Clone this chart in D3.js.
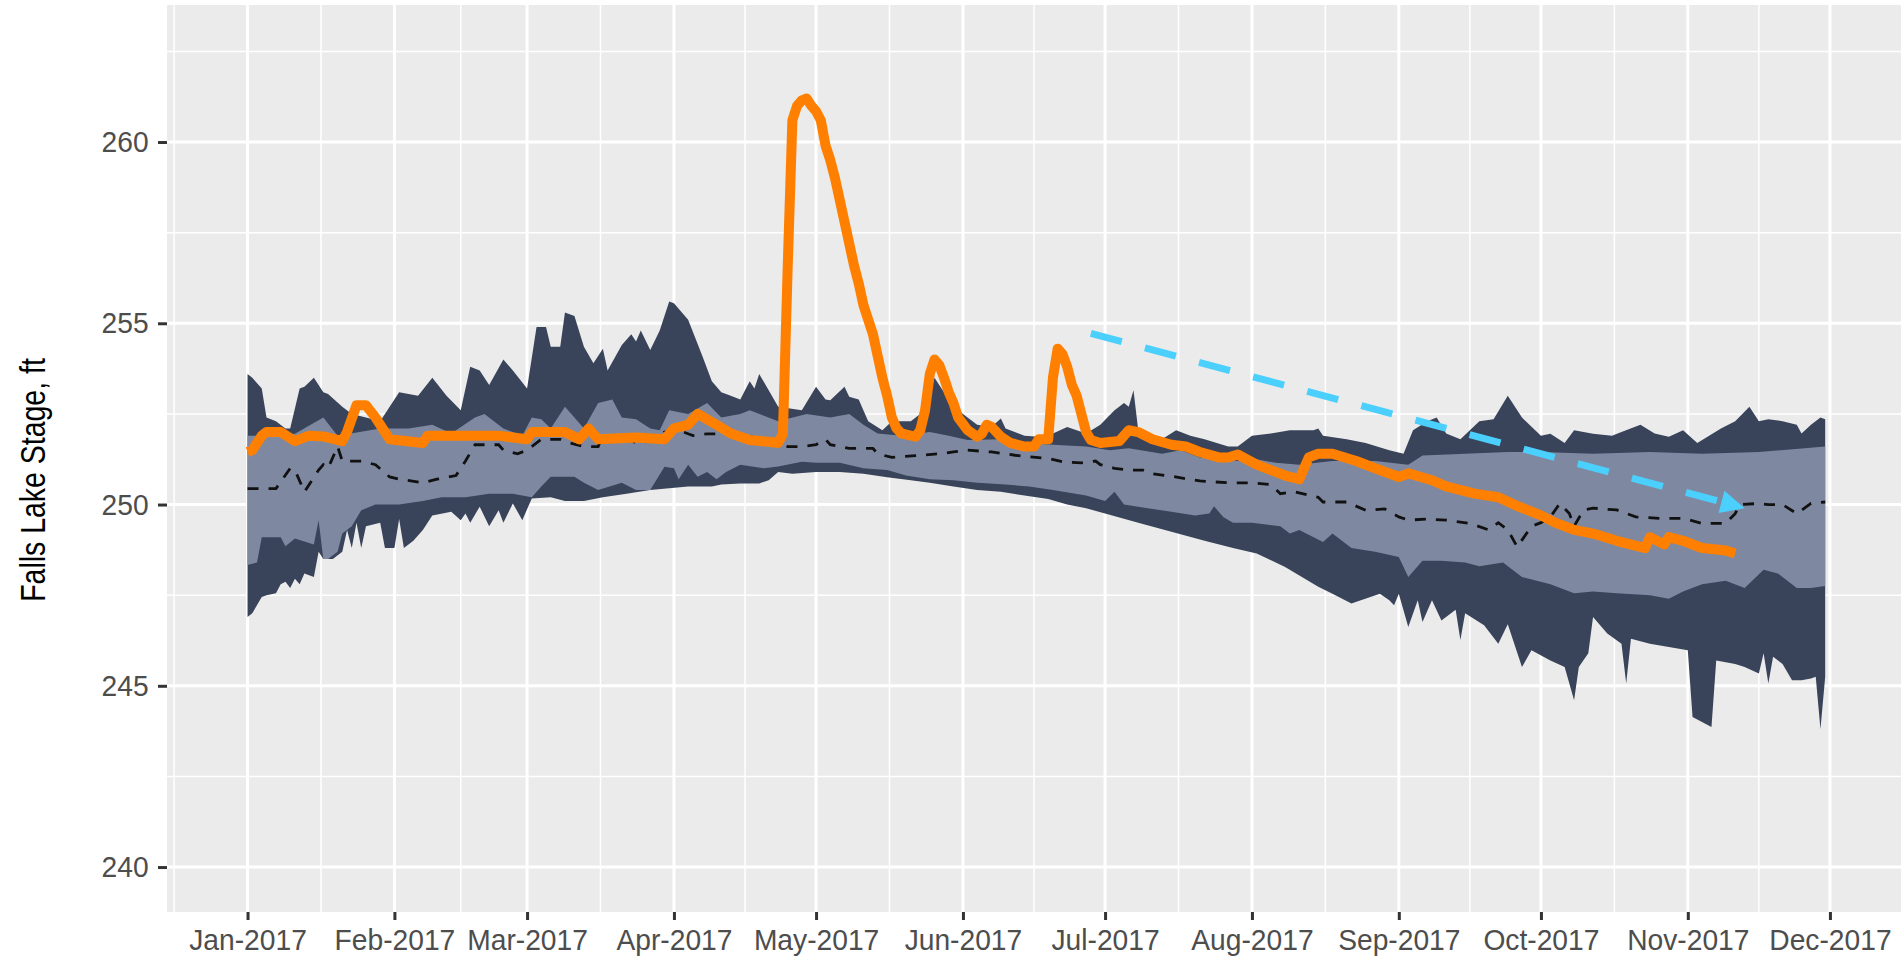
<!DOCTYPE html>
<html>
<head>
<meta charset="utf-8">
<script src="https://cdn.jsdelivr.net/npm/d3@7"></script>
<style>
  body { margin: 0; background: #ffffff; }
  text { font-family: "Liberation Sans", Arial, sans-serif; }
</style>
</head>
<body>
<div></div>
<script>
// ---- data: [day offset from 1 Jan 2017, stage in ft] ----
var outerHigh = [[0,253.6],[1,253.5],[3,253.2],[4,252.4],[6,252.3],[8,252.1],[9,252.1],[11,253.2],[12,253.25],[14,253.5],[16,253.1],[17,253.05],[20,252.7],[22,252.5],[25,252.4],[28,252.3],[31,252.9],[32,253.1],[36,253.0],[39,253.5],[42,253.0],[45,252.6],[47,253.8],[49,253.7],[51,253.3],[54,254.0],[56,253.7],[59,253.2],[61,254.9],[63,254.9],[64,254.35],[66,254.35],[67,255.3],[69,255.2],[71,254.35],[73,253.9],[75,254.3],[76,253.7],[79,254.4],[81,254.7],[82,254.5],[83,254.8],[85,254.26],[87,254.8],[89,255.6],[90,255.55],[93,255.1],[96,254.1],[98,253.4],[100,253.1],[102,253.0],[104,252.9],[106,253.4],[107,253.2],[108,253.6],[110,253.15],[112,252.7],[117,252.6],[120,253.25],[122,252.9],[123,252.88],[126,253.25],[127,252.97],[129,252.9],[131,252.3],[134,252.05],[136,252.3],[140,252.3],[143,252.6],[145,253.5],[148,252.9],[151,252.5],[154,252.2],[157,252.14],[159,252.37],[160,252.1],[164,251.9],[167,251.87],[170,251.96],[173,252.14],[177,251.96],[180,252.2],[183,252.6],[185,252.8],[186,252.7],[187,253.15],[188,252.05],[191,251.87],[193,251.8],[196,252.05],[199,251.9],[202,251.8],[207,251.6],[209,251.6],[212,251.9],[216,251.96],[220,252.05],[225,252.05],[226,252.1],[227,251.9],[232,251.8],[236,251.7],[241,251.5],[244,251.4],[246,252.05],[249,252.3],[251,252.4],[253,251.96],[256,251.8],[260,252.3],[263,252.35],[266,253.0],[269,252.4],[273,251.9],[275,251.95],[278,251.7],[280,252.05],[284,251.95],[288,251.9],[290,252.0],[294,252.2],[297,251.96],[300,251.87],[303,252.05],[306,251.7],[311,252.1],[314,252.3],[317,252.7],[319,252.3],[321,252.35],[324,252.3],[327,252.2],[328,251.96],[330,252.2],[332,252.4],[333,252.35]];

var innerHigh = [[0,251.9],[4,251.9],[10,251.95],[16,252.4],[19,251.9],[28,252.1],[34,252.1],[39,252.2],[43,251.96],[48,252.4],[50,252.5],[54,252.1],[58,251.9],[60,252.4],[62,252.35],[64,252.1],[67,252.7],[69,252.4],[71,252.1],[74,252.8],[77,252.9],[79,252.4],[82,252.35],[85,252.1],[87,252.05],[89,252.6],[93,252.5],[97,252.8],[100,252.4],[104,252.5],[106,252.6],[112,252.3],[118,252.5],[123,252.4],[127,252.5],[130,252.2],[133,251.96],[138,251.9],[144,252.0],[148,251.9],[152,251.78],[159,251.8],[164,251.7],[170,251.65],[177,251.6],[182,251.5],[186,251.55],[193,251.4],[197,251.5],[201,251.3],[209,251.2],[211,251.3],[217,251.15],[222,251.1],[229,251.2],[238,251.2],[245,251.1],[248,251.35],[257,251.4],[266,251.45],[273,251.45],[284,251.4],[296,251.45],[307,251.4],[319,251.45],[333,251.6]];

var innerLow = [[0,248.33],[2,248.4],[3,249.1],[7,249.1],[8,248.85],[10,249.06],[14,248.9],[15,249.57],[16,248.5],[17,248.5],[19,248.7],[20,249.2],[22,249.4],[24,249.84],[27,250.0],[32,250.0],[37,250.1],[41,250.2],[46,250.2],[51,250.3],[56,250.3],[60,250.2],[62,250.5],[64,250.77],[69,250.77],[71,250.6],[74,250.4],[79,250.6],[82,250.4],[85,250.4],[88,251.04],[90,251.0],[91,250.7],[93,251.1],[95,250.77],[97,250.9],[99,250.7],[101,250.9],[104,251.1],[109,251.0],[112,251.05],[117,251.18],[120,251.15],[125,251.15],[130,251.0],[135,250.95],[139,250.8],[144,250.7],[149,250.67],[154,250.6],[160,250.55],[165,250.5],[170,250.4],[177,250.25],[181,250.1],[183,250.35],[185,250.0],[190,249.9],[195,249.8],[200,249.7],[203,249.75],[204,249.95],[206,249.65],[208,249.5],[212,249.5],[218,249.4],[220,249.2],[222,249.3],[227,248.97],[229,249.2],[233,248.8],[238,248.7],[243,248.55],[245,248.0],[248,248.45],[252,248.45],[257,248.4],[260,248.3],[265,248.4],[269,248.0],[275,247.8],[280,247.55],[284,247.6],[289,247.55],[296,247.5],[300,247.4],[303,247.6],[307,247.8],[312,247.9],[316,247.7],[320,248.2],[323,248.1],[327,247.7],[330,247.7],[333,247.75]];

var outerLow = [[0,246.9],[1,247.0],[3,247.45],[4,247.5],[6,247.55],[7,247.8],[8,247.87],[9,247.7],[10,247.95],[11,247.8],[12,248.1],[14,248.0],[15,248.7],[16,248.5],[18,248.5],[20,248.7],[21,249.3],[22,248.8],[23,249.5],[24,248.8],[25,249.4],[28,249.5],[29,248.8],[31,248.8],[32,249.6],[33,248.8],[35,249.0],[37,249.3],[39,249.7],[43,249.8],[45,249.57],[46,249.75],[47,249.5],[49,249.94],[51,249.4],[53,249.84],[54,249.5],[56,250.03],[58,249.57],[60,250.17],[64,250.2],[67,250.1],[71,250.1],[75,250.2],[80,250.3],[85,250.4],[93,250.5],[98,250.5],[100,250.55],[104,250.58],[108,250.58],[110,250.67],[112,250.9],[115,250.85],[120,250.9],[125,250.9],[130,250.85],[135,250.75],[140,250.67],[144,250.6],[149,250.5],[154,250.4],[159,250.35],[164,250.25],[169,250.15],[173,250.0],[177,249.9],[181,249.75],[188,249.5],[195,249.25],[202,249.0],[208,248.8],[213,248.65],[219,248.28],[226,247.73],[229,247.54],[233,247.27],[235,247.36],[239,247.54],[241,247.36],[242,247.22],[243,247.54],[245,246.62],[247,247.36],[248,246.76],[250,247.36],[252,246.8],[255,247.1],[256,246.26],[257,247.0],[261,246.67],[264,246.16],[266,246.7],[269,245.52],[271,245.98],[275,245.7],[278,245.52],[280,244.6],[281,245.52],[283,245.9],[284,246.9],[287,246.44],[290,246.16],[291,245.06],[292,246.3],[296,246.16],[300,246.07],[304,245.98],[305,244.14],[309,243.86],[310,245.7],[314,245.6],[316,245.52],[319,245.34],[320,245.9],[321,245.06],[322,245.8],[324,245.6],[326,245.15],[328,245.15],[330,245.2],[331,245.25],[332,243.8],[333,245.25]];

var median = [[0,250.44],[6,250.44],[9,251.0],[10,250.95],[12,250.35],[15,250.95],[16,251.1],[17,251.0],[19,251.6],[20,251.2],[24,251.2],[27,251.1],[30,250.76],[32,250.7],[37,250.6],[40,250.7],[44,250.8],[46,251.2],[48,251.65],[53,251.65],[54,251.5],[57,251.4],[59,251.5],[62,251.8],[66,251.8],[68,251.7],[71,251.6],[74,251.6],[75,251.9],[79,251.9],[82,251.7],[85,251.75],[88,252.0],[91,252.05],[94,251.9],[97,251.95],[100,251.95],[106,251.87],[111,251.78],[114,251.6],[117,251.6],[120,251.65],[122,251.8],[123,251.65],[127,251.55],[132,251.55],[133,251.4],[136,251.3],[141,251.35],[146,251.4],[149,251.45],[152,251.5],[157,251.45],[162,251.36],[165,251.32],[169,251.27],[172,251.18],[176,251.15],[179,251.2],[180,251.1],[183,251.0],[186,250.95],[189,250.95],[191,250.85],[195,250.78],[201,250.65],[207,250.6],[212,250.6],[216,250.55],[218,250.3],[221,250.35],[226,250.2],[227,250.07],[232,250.07],[236,249.84],[240,249.88],[243,249.66],[245,249.57],[249,249.6],[253,249.57],[258,249.48],[262,249.3],[264,249.5],[266,249.3],[268,248.83],[271,249.4],[273,249.5],[275,249.66],[277,250.03],[279,249.75],[280,249.4],[282,249.85],[284,249.9],[289,249.85],[293,249.66],[298,249.62],[303,249.62],[307,249.48],[312,249.48],[314,249.75],[315,250.0],[319,250.03],[321,250.0],[324,250.0],[327,249.75],[330,250.03],[333,250.07]];

var stage2017 = [[0,251.45],[1,251.5],[3,251.9],[4,252.0],[7,252.0],[10,251.75],[13,251.9],[16,251.88],[20,251.75],[21,252.0],[23,252.74],[25,252.74],[27,252.4],[30,251.8],[37,251.7],[38,251.9],[45,251.9],[53,251.9],[59,251.8],[60,252.0],[67,252.0],[70,251.8],[72,252.1],[74,251.8],[82,251.85],[88,251.8],[90,252.1],[93,252.2],[95,252.5],[99,252.2],[102,251.96],[106,251.78],[110,251.73],[112,251.7],[113,251.95],[114,256.5],[115,260.6],[116,261.0],[117,261.15],[118,261.2],[119,261.0],[120,260.85],[121,260.6],[122,259.9],[123,259.5],[124,259.0],[125,258.4],[126,257.8],[127,257.2],[128,256.6],[129,256.1],[130,255.5],[131,255.1],[132,254.7],[133,254.1],[134,253.5],[135,253.0],[136,252.4],[137,252.1],[138,251.96],[141,251.87],[142,252.05],[143,252.6],[144,253.6],[145,254.0],[146,253.85],[147,253.5],[148,253.1],[149,252.8],[150,252.4],[152,252.05],[154,251.87],[155,251.95],[156,252.2],[157,252.15],[159,251.87],[161,251.7],[164,251.6],[166,251.6],[167,251.8],[169,251.8],[170,253.5],[171,254.3],[172,254.15],[173,253.8],[174,253.3],[175,253.0],[176,252.5],[177,252.0],[178,251.78],[180,251.7],[184,251.75],[186,252.05],[188,252.0],[191,251.8],[195,251.65],[198,251.6],[201,251.45],[205,251.3],[207,251.3],[209,251.38],[213,251.1],[216,250.95],[219,250.8],[222,250.7],[224,251.3],[226,251.4],[229,251.4],[234,251.2],[238,251.0],[243,250.76],[245,250.86],[250,250.67],[253,250.5],[259,250.3],[264,250.2],[268,249.96],[273,249.7],[276,249.5],[280,249.3],[284,249.2],[289,249.0],[295,248.8],[296,249.1],[299,248.9],[300,249.1],[303,249.0],[307,248.8],[312,248.73],[314,248.65]];

// annotation arrow (start, end)
var trendArrow = [[178, 254.72], [316, 249.9]];

var yTicks = [240, 245, 250, 255, 260];
var yMinor = [242.5, 247.5, 252.5, 257.5, 262.5];
var yAxisLabel = "Falls Lake Stage, ft";

// ---- layout ----
var width = 1901;
var height = 957;
var panel = { left: 167, right: 1901, top: 5, bottom: 912 };
var squeeze = 0.94; // glyphs in the reference are a little narrow

var start = new Date(Date.UTC(2017, 0, 1));
var day = (d) => d3.utcDay.offset(start, d);

var svg = d3
  .select("div")
  .append("svg")
  .attr("width", width)
  .attr("height", height);

// x: data extent with 5% expansion on both sides (like ggplot)
var ext = d3.extent(outerHigh, (d) => d[0]);
var pad = (ext[1] - ext[0]) * 0.05;
var x = d3
  .scaleUtc()
  .domain([day(ext[0] - pad), day(ext[1] + pad)])
  .range([panel.left, panel.right]);

var y = d3
  .scaleLinear()
  .domain([238.76, 263.78])
  .range([panel.bottom, panel.top]);

var months = d3.utcMonth.range(day(0), day(ext[1] + 2));
var allMonths = d3.utcMonth.range(new Date(Date.UTC(2016, 11, 1)), new Date(Date.UTC(2018, 0, 2)));
var xMinor = d3.pairs(allMonths).map((p) => new Date((+p[0] + +p[1]) / 2));

// panel background and grid
svg
  .append("rect")
  .attr("x", panel.left)
  .attr("y", panel.top)
  .attr("width", panel.right - panel.left)
  .attr("height", panel.bottom - panel.top)
  .attr("fill", "#EBEBEB");

var grid = svg.append("g").attr("stroke", "#ffffff");

grid
  .append("g")
  .selectAll("line")
  .data(yMinor)
  .join("line")
  .attr("x1", panel.left)
  .attr("x2", panel.right)
  .attr("y1", (d) => y(d))
  .attr("y2", (d) => y(d))
  .attr("stroke-width", 1.5);

grid
  .append("g")
  .selectAll("line")
  .data(xMinor.filter((d) => x(d) > panel.left && x(d) < panel.right))
  .join("line")
  .attr("x1", (d) => x(d))
  .attr("x2", (d) => x(d))
  .attr("y1", panel.top)
  .attr("y2", panel.bottom)
  .attr("stroke-width", 1.5);

grid
  .append("g")
  .selectAll("line")
  .data(yTicks)
  .join("line")
  .attr("x1", panel.left)
  .attr("x2", panel.right)
  .attr("y1", (d) => y(d))
  .attr("y2", (d) => y(d))
  .attr("stroke-width", 3);

grid
  .append("g")
  .selectAll("line")
  .data(months)
  .join("line")
  .attr("x1", (d) => x(d))
  .attr("x2", (d) => x(d))
  .attr("y1", panel.top)
  .attr("y2", panel.bottom)
  .attr("stroke-width", 3);

// bands: upper edge forward, lower edge backward
var line = d3
  .line()
  .x((d) => x(day(d[0])))
  .y((d) => y(d[1]));

var band = (hi, lo) => line(hi.concat(lo.slice().reverse())) + "Z";

svg.append("path").attr("d", band(outerHigh, outerLow)).attr("fill", "#39445A");
svg.append("path").attr("d", band(innerHigh, innerLow)).attr("fill", "#7E89A1");

// median (dashed)
svg
  .append("path")
  .datum(median)
  .attr("d", line)
  .attr("fill", "none")
  .attr("stroke", "#111111")
  .attr("stroke-width", 2.8)
  .attr("stroke-dasharray", "11,10");

// 2017 observed stage
svg
  .append("path")
  .datum(stage2017)
  .attr("d", line)
  .attr("fill", "none")
  .attr("stroke", "#FF7F00")
  .attr("stroke-width", 10)
  .attr("stroke-linejoin", "round");

// trend arrow
var p0 = [x(day(trendArrow[0][0])), y(trendArrow[0][1])];
var p1 = [x(day(trendArrow[1][0])), y(trendArrow[1][1])];
var ang = Math.atan2(p1[1] - p0[1], p1[0] - p0[0]);
var headLen = 24, headHalf = 11.5;
var base = [p1[0] - headLen * Math.cos(ang), p1[1] - headLen * Math.sin(ang)];

svg
  .append("line")
  .attr("x1", p0[0])
  .attr("y1", p0[1])
  .attr("x2", base[0])
  .attr("y2", base[1])
  .attr("stroke", "#4BCFFC")
  .attr("stroke-width", 7)
  .attr("stroke-dasharray", "32,24");

svg
  .append("path")
  .attr(
    "d",
    d3.line()([
      p1,
      [base[0] + headHalf * Math.sin(ang), base[1] - headHalf * Math.cos(ang)],
      [base[0] - headHalf * Math.sin(ang), base[1] + headHalf * Math.cos(ang)],
    ]) + "Z"
  )
  .attr("fill", "#4BCFFC");

// axes
var xAxis = (g) =>
  g
    .attr("transform", `translate(0,${panel.bottom})`)
    .call(d3.axisBottom(x).tickValues(months).tickFormat(d3.utcFormat("%b-%Y")).tickSize(8).tickPadding(8.7))
    .call((g) => g.select(".domain").remove())
    .call((g) => g.selectAll(".tick line").attr("stroke", "#333333").attr("stroke-width", 3))
    .call((g) =>
      g
        .selectAll(".tick text")
        .attr("fill", "#4D4D4D")
        .attr("font-size", 30)
        .attr("font-family", "Liberation Sans, Arial, sans-serif")
        .attr("transform", `scale(${squeeze},1)`)
    );

var yAxis = (g) =>
  g
    .attr("transform", `translate(${panel.left},0)`)
    .call(d3.axisLeft(y).tickValues(yTicks).tickSize(9).tickPadding(9.4))
    .call((g) => g.select(".domain").remove())
    .call((g) => g.selectAll(".tick line").attr("stroke", "#333333").attr("stroke-width", 3))
    .call((g) =>
      g
        .selectAll(".tick text")
        .attr("fill", "#4D4D4D")
        .attr("font-size", 30)
        .attr("font-family", "Liberation Sans, Arial, sans-serif")
        .attr("x", -18.4 / squeeze)
        .attr("transform", `scale(${squeeze},1)`)
    );

svg.append("g").call(xAxis);
svg.append("g").call(yAxis);

// y axis title (condensed along its length)
svg
  .append("text")
  .attr("transform", "translate(45,480) rotate(-90) scale(0.8,1)")
  .attr("text-anchor", "middle")
  .attr("font-size", 35.6)
  .attr("fill", "#000000")
  .text(yAxisLabel);
</script>
</body>
</html>
